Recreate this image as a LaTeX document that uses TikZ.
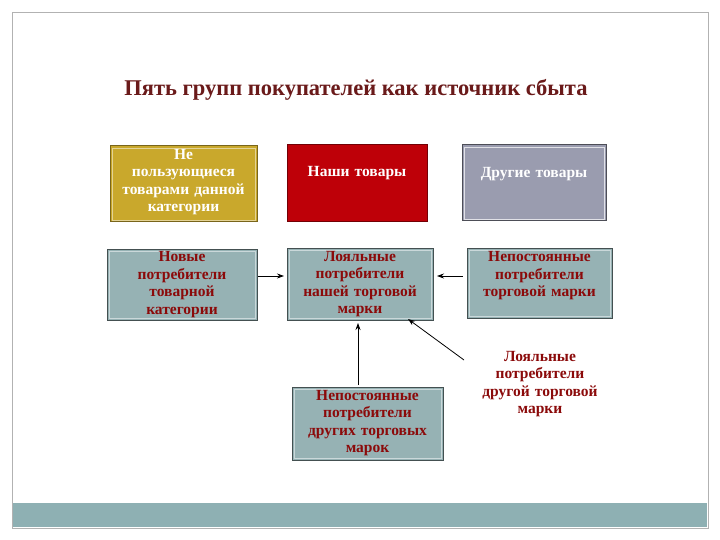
\documentclass[tikz,border=0pt]{standalone}
\usepackage{fontspec}
\setmainfont{Liberation Serif}
\usetikzlibrary{arrows.meta}
\definecolor{gold}{HTML}{C9A82C}
\definecolor{redb}{HTML}{BE0008}
\definecolor{grayb}{HTML}{9A9CAF}
\definecolor{teal}{HTML}{96B2B4}
\definecolor{dred}{HTML}{8B0A0A}
\definecolor{titlec}{HTML}{6A1A1A}
\definecolor{barc}{HTML}{8EB0B3}
\tikzset{
 top/.style={font=\bfseries\fontsize{15.5}{17.5}\selectfont,text=white,align=center,text width=160pt},
 low/.style={font=\bfseries\fontsize{15.5}{17.5}\selectfont,text=dred,align=center,text width=160pt},
 arr/.style={-{Stealth[length=7pt,width=5pt]},line width=0.8pt}
}
\begin{document}
\begin{tikzpicture}[x=1pt,y=-1pt]
\useasboundingbox (0,0) rectangle (720,540);
\draw[gray!60] (12,12) rectangle (708,528);
\fill[barc] (13,503) rectangle (707,527);
\node[font=\bfseries\fontsize{22.5}{24}\selectfont,text=titlec] (title) at (356,90) {Пять групп покупателей как источник сбыта};
\fill[gold] (110,146) rectangle (257,222);\draw[gold!60!black,line width=1pt] (110,146) rectangle (257,222);\draw[gold!50!white,line width=0.5pt] (112,148) rectangle (255,220);
\fill[redb] (287,145) rectangle (427,222);\draw[redb!60!black,line width=1pt] (287,145) rectangle (427,222);
\fill[grayb] (462,145) rectangle (606,221);\draw[grayb!50!black,line width=1pt] (462,145) rectangle (606,221);\draw[white!70!grayb,line width=0.5pt] (464,147) rectangle (604,219);
\foreach \a/\b/\c/\d in {107/249/257/320, 287/248/433/320, 467/248/612/318, 292/387/443/460}{
 \fill[teal] (\a,\b) rectangle (\c,\d);
 \draw[teal!45!black,line width=1pt] (\a,\b) rectangle (\c,\d);
 \draw[teal!50!white,line width=0.5pt] (\a+2,\b+2) rectangle (\c-2,\d-2);
}
\node[top] (b1) at (183.5,182) {Не\\пользующиеся\\товарами данной\\категории};
\node[top] (b2) at (357,173) {Наши товары};
\node[top] (b3) at (534,174) {Другие товары};
\node[low] (b4) at (182,284.5) {Новые\\потребители\\товарной\\категории};
\node[low] (b5) at (360,284) {Лояльные\\потребители\\нашей торговой\\марки};
\node[low] (b6) at (539.5,276) {Непостоянные\\потребители\\торговой марки};
\node[low] (b7) at (367.5,423) {Непостоянные\\потребители\\других торговых\\марок};
\node[low] (b8) at (540,384) {Лояльные\\потребители\\другой торговой\\марки};
\coordinate (l4) at (258,276); \coordinate (l5) at (284,276);
\coordinate (r6) at (463,276); \coordinate (r5) at (437,276);
\coordinate (t7) at (358,385); \coordinate (bt5) at (358,323);
\coordinate (s8) at (464,360); \coordinate (br5) at (408,319);
\draw[arr] (l4) -- (l5);
\draw[arr] (r6) -- (r5);
\draw[arr] (t7) -- (bt5);
\draw[arr] (s8) -- (br5);
\end{tikzpicture}
\end{document}
